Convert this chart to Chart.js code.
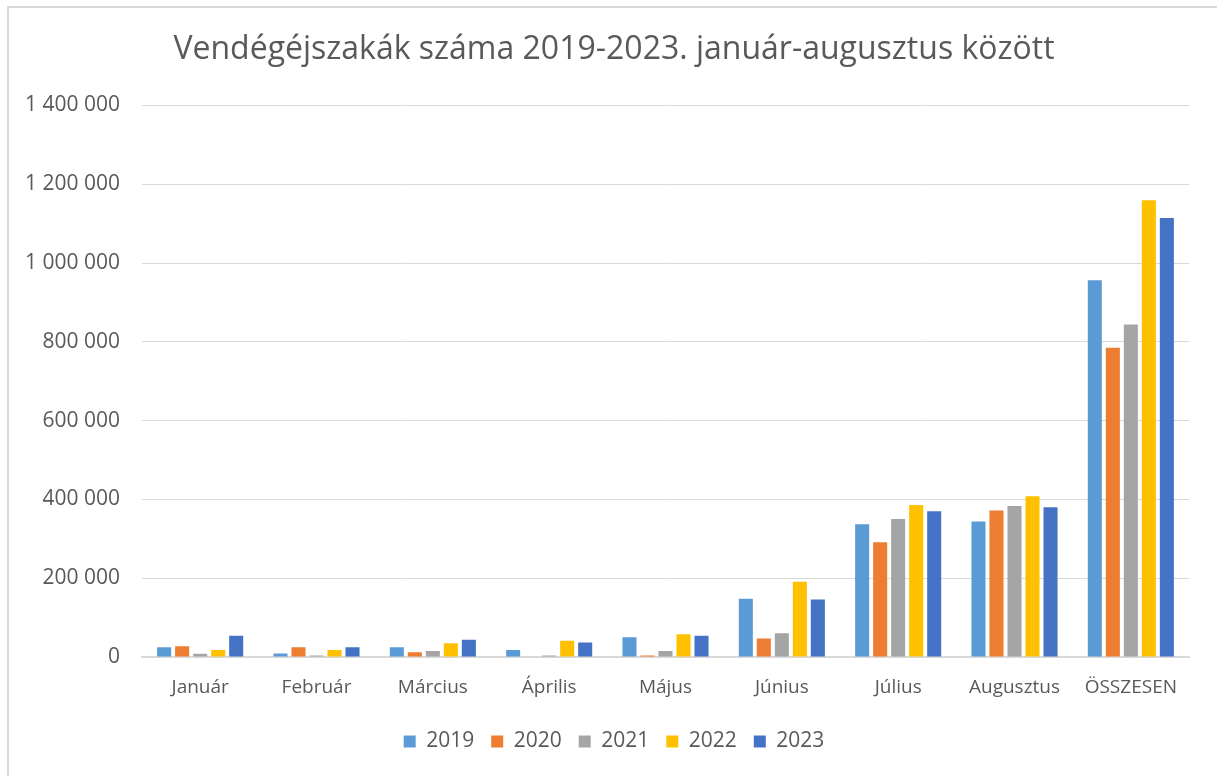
<!DOCTYPE html>
<html>
<head>
<meta charset="utf-8">
<script src="https://cdn.jsdelivr.net/npm/chart.js@4/dist/chart.umd.min.js"></script>
<style>
    body { margin: 0; background: #fff; overflow: hidden; }
    #frame {
        position: absolute; left: 7px; top: 6px;
        width: 1210px; height: 770px;
        border-left: 2px solid #d9d9d9; border-top: 2px solid #d9d9d9;
    }
</style>
</head>
<body>
<div id="frame"><canvas id="vendeg" width="1210" height="770"></canvas></div>
<script>
// adatok (vendégéjszakák)
var honapok = ['Január', 'Február', 'Március', 'Április', 'Május', 'Június', 'Július', 'Augusztus', 'ÖSSZESEN'];
var ev2019 = [25000, 9000, 25000, 18000, 50000, 148000, 337000, 344000, 956000];
var ev2020 = [27000, 25000, 12000, 1000, 4000, 47000, 291000, 372000, 785000];
var ev2021 = [8000, 4000, 15000, 4000, 15000, 60000, 350000, 383000, 844000];
var ev2022 = [18000, 18000, 35000, 41000, 58000, 191000, 386000, 408000, 1159000];
var ev2023 = [54000, 25000, 44000, 37000, 54000, 146000, 370000, 380000, 1114000];
var yTicks = [0, 200000, 400000, 600000, 800000, 1000000, 1200000, 1400000];

var szurke = '#595959';
Chart.defaults.font.family = '"Open Sans", sans-serif';
Chart.defaults.color = szurke;

function sor(label, data, color) {
    return {
        label: label,
        data: data,
        backgroundColor: color,
        borderWidth: 0,
        categoryPercentage: 0.774,
        barPercentage: 0.78
    };
}

var ctx = document.getElementById('vendeg');
var myChart = new Chart(ctx, {
    type: 'bar',
    data: {
        labels: honapok,
        datasets: [
            sor('2019', ev2019, '#5B9BD5'),
            sor('2020', ev2020, '#ED7D31'),
            sor('2021', ev2021, '#A5A5A5'),
            sor('2022', ev2022, '#FFC000'),
            sor('2023', ev2023, '#4472C4')
        ]
    },
    options: {
        responsive: false,
        animation: false,
        layout: { padding: { top: 23, right: 0, bottom: 16, left: 0 } },
        plugins: {
            title: {
                display: true,
                text: 'Vendégéjszakák száma 2019-2023. január-augusztus között',
                font: { size: 32, weight: 'normal' },
                color: szurke,
                padding: { top: 0, bottom: 36 }
            },
            legend: {
                position: 'bottom',
                labels: {
                    boxWidth: 12, boxHeight: 12,
                    font: { size: 21 },
                    color: szurke,
                    padding: 17
                }
            },
            tooltip: { enabled: false }
        },
        scales: {
            x: {
                grid: { display: false },
                border: { color: '#d9d9d9', width: 2 },
                ticks: { font: { size: 19 }, color: szurke, padding: 11 },
                afterFit: function (s) { s.height = 57; }
            },
            y: {
                min: 0, max: 1400000,
                afterBuildTicks: function (s) {
                    s.ticks = yTicks.map(function (v) { return { value: v }; });
                },
                grid: { color: '#d9d9d9', lineWidth: 1, drawTicks: false },
                border: { display: false },
                ticks: {
                    font: { size: 21 }, color: szurke, padding: 22,
                    callback: function (v) {
                        return String(v).replace(/\B(?=(\d{3})+(?!\d))/g, ' ');
                    }
                },
                afterFit: function (s) { s.width = 133; }
            },
            // üres jobb oldali sáv, hogy a cím és a jelmagyarázat középen legyen
            jobb: {
                position: 'right',
                grid: { display: false },
                border: { display: false },
                ticks: { display: false },
                afterFit: function (s) { s.width = 30; }
            }
        }
    }
});
</script>
</body>
</html>
